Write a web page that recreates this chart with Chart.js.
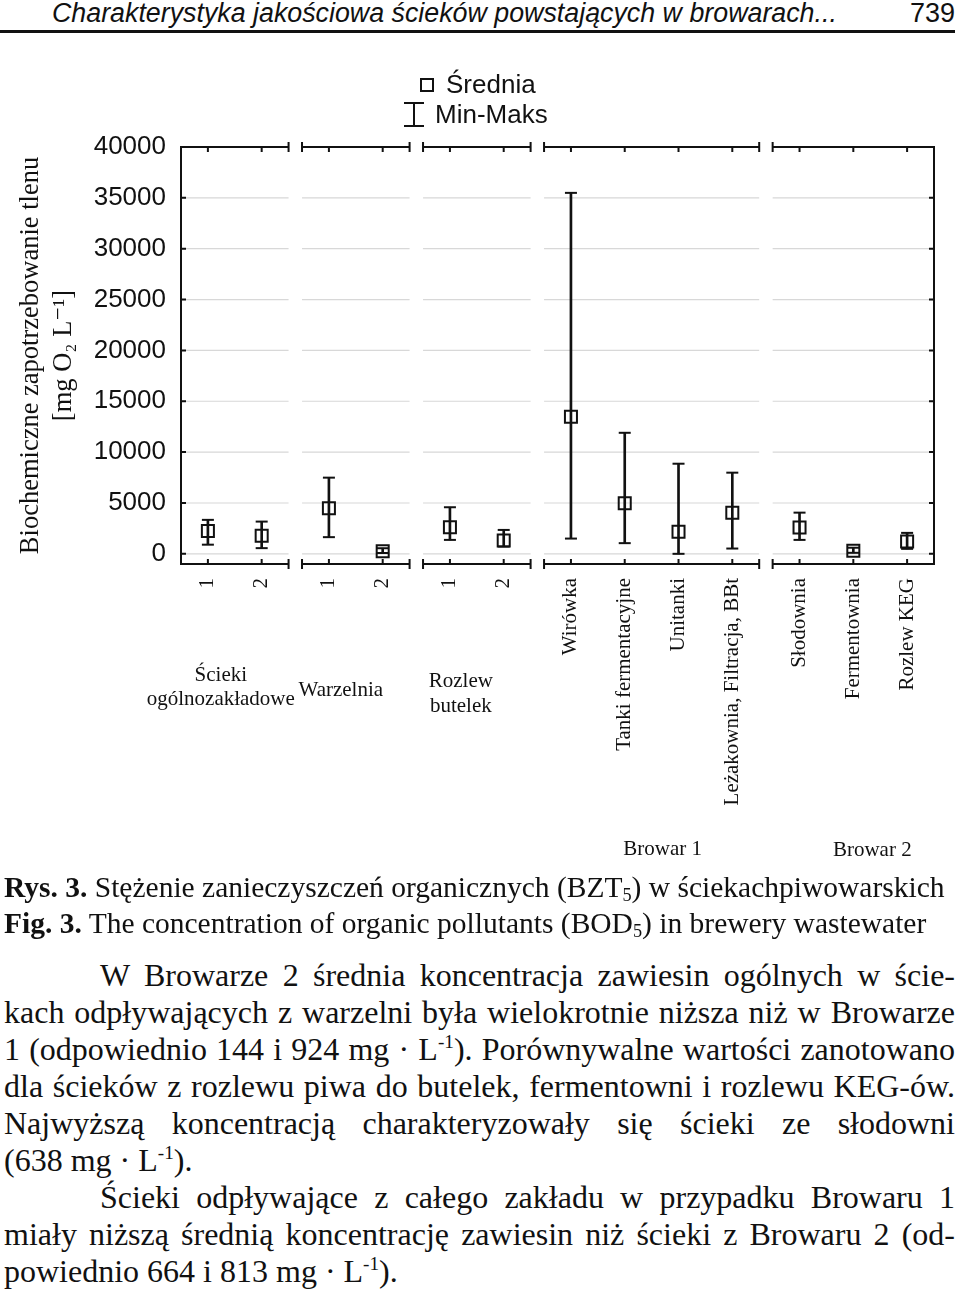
<!DOCTYPE html>
<html lang="pl">
<head>
<meta charset="utf-8">
<title>Stężenie BZT5 w ściekach piwowarskich</title>
<script src="https://cdn.jsdelivr.net/npm/chart.js@4.4.1/dist/chart.umd.min.js"></script>
<style>
  html, body { margin: 0; padding: 0; background: #fff; }
  body { width: 960px; height: 1295px; position: relative; overflow: hidden; color: #111; }
  #running { position: absolute; left: 52px; top: -2px; font: italic 26.8px/30px "Liberation Sans", Arial, sans-serif; white-space: nowrap; }
  #pageno { position: absolute; right: 5px; top: -2px; font: 27px/30px "Liberation Sans", Arial, sans-serif; }
  #rule { position: absolute; left: 0; top: 30px; width: 955px; height: 3px; background: #111; }
  #chartBox { position: absolute; left: 0; top: 40px; width: 960px; height: 830px; }
  #caption { position: absolute; left: 4px; top: 869px; font: 29.5px/36px "Liberation Serif", "Times New Roman", serif; white-space: nowrap; }
  #text { position: absolute; left: 4px; top: 957px; width: 951px; font: 32px/37px "Liberation Serif", "Times New Roman", serif; }
  .j { text-align: justify; text-align-last: justify; }
  .ind { padding-left: 96px; }
  sub { font-size: 0.62em; line-height: 0; vertical-align: 0; position: relative; top: 0.2em; }
  sup { font-size: 0.6em; line-height: 0; vertical-align: 0; position: relative; top: -0.62em; }
</style>
</head>
<body>
<div id="running">Charakterystyka jakościowa ścieków powstających w browarach...</div>
<div id="pageno">739</div>
<div id="rule"></div>

<div id="chartBox"><canvas id="bodChart" width="960" height="830"></canvas></div>

<div id="caption">
  <div><b>Rys. 3.</b> Stężenie zanieczyszczeń organicznych (BZT<sub>5</sub>) w ściekachpiwowarskich</div>
  <div><b>Fig. 3.</b> The concentration of organic pollutants (BOD<sub>5</sub>) in brewery wastewater</div>
</div>

<div id="text">
  <div class="j ind">W Browarze 2 średnia koncentracja zawiesin ogólnych w ście-</div>
  <div class="j">kach odpływających z warzelni była wielokrotnie niższa niż w Browarze</div>
  <div class="j">1 (odpowiednio 144 i 924 mg · L<sup>-1</sup>). Porównywalne wartości zanotowano</div>
  <div class="j">dla ścieków z rozlewu piwa do butelek, fermentowni i rozlewu KEG-ów.</div>
  <div class="j">Najwyższą koncentracją charakteryzowały się ścieki ze słodowni</div>
  <div>(638 mg · L<sup>-1</sup>).</div>
  <div class="j ind">Ścieki odpływające z całego zakładu w przypadku Browaru 1</div>
  <div class="j">miały niższą średnią koncentrację zawiesin niż ścieki z Browaru 2 (od-</div>
  <div>powiednio 664 i 813 mg · L<sup>-1</sup>).</div>
</div>

<script>
// dane (mg O2/L)
const groupNames = [['Ścieki', 'ogólnozakładowe'], ['Warzelnia'], ['Rozlew', 'butelek'], ['Browar 1'], ['Browar 2']];
const groupSizes = [2, 2, 2, 4, 3];
const categories = ['1', '2', '1', '2', '1', '2',
    'Wirówka', 'Tanki fermentacyjne', 'Unitanki', 'Leżakownia, Filtracja, BBt',
    'Słodownia', 'Fermentownia', 'Rozlew KEG'];
const meanValues = [2250, 1770, 4480, 250, 2620, 1300, 13470, 4980, 2160, 4050, 2580, 300, 1210];
const minValues = [900, 560, 1640, 80, 1370, 720, 1500, 1050, 0, 520, 1370, 100, 490];
const maxValues = [3340, 3170, 7490, 550, 4580, 2350, 35490, 11900, 8860, 7980, 4050, 600, 2060];
const yTicks = [0, 5000, 10000, 15000, 20000, 25000, 30000, 35000, 40000];

// panels separated by axis breaks
const panelGap = 0.25;
const panels = [];
const xPositions = [];
let cursor = 0;
groupSizes.forEach(n => {
    panels.push({ from: cursor, to: cursor + n });
    for (let i = 0; i < n; i++) xPositions.push(cursor + i + 0.5);
    cursor += n + panelGap;
});
const xMax = cursor - panelGap;

const ink = '#111';
const serif = "'Liberation Serif', 'DejaVu Serif', serif";
const sans = "'Liberation Sans', Arial, sans-serif";

const brokenFrame = {
    id: 'brokenFrame',
    beforeDatasetsDraw(chart) {
        const { ctx, chartArea: area, scales: { x, y } } = chart;
        const cap = 5, tick = 5;
        ctx.save();
        panels.forEach((p, k) => {
            const x0 = x.getPixelForValue(p.from);
            const x1 = x.getPixelForValue(p.to);
            ctx.strokeStyle = '#d8d8d8';
            ctx.lineWidth = 1.2;
            ctx.beginPath();
            yTicks.forEach(v => {
                const py = y.getPixelForValue(v);
                ctx.moveTo(x0, py);
                ctx.lineTo(x1, py);
            });
            ctx.stroke();

            ctx.strokeStyle = ink;
            ctx.lineWidth = 2;
            ctx.beginPath();
            ctx.moveTo(x0, area.top); ctx.lineTo(x1, area.top);
            ctx.moveTo(x0, area.bottom); ctx.lineTo(x1, area.bottom);
            if (k > 0) {
                ctx.moveTo(x0, area.top - cap); ctx.lineTo(x0, area.top + cap);
                ctx.moveTo(x0, area.bottom - cap); ctx.lineTo(x0, area.bottom + cap);
            }
            if (k < panels.length - 1) {
                ctx.moveTo(x1, area.top - cap); ctx.lineTo(x1, area.top + cap);
                ctx.moveTo(x1, area.bottom - cap); ctx.lineTo(x1, area.bottom + cap);
            }
            ctx.stroke();
        });

        ctx.beginPath();
        xPositions.forEach(v => {
            const px = x.getPixelForValue(v);
            ctx.moveTo(px, area.top); ctx.lineTo(px, area.top + tick);
            ctx.moveTo(px, area.bottom); ctx.lineTo(px, area.bottom - tick);
        });
        ctx.moveTo(area.left, area.top - 1); ctx.lineTo(area.left, area.bottom + 1);
        ctx.moveTo(area.right, area.top - 1); ctx.lineTo(area.right, area.bottom + 1);
        yTicks.forEach(v => {
            const py = y.getPixelForValue(v);
            ctx.moveTo(area.left, py); ctx.lineTo(area.left + tick, py);
            ctx.moveTo(area.right, py); ctx.lineTo(area.right - tick, py);
        });
        ctx.stroke();
        ctx.restore();
    }
};

// legend + group names drawn on top
const labelOffsets = [
    { dx: -14, y: [635, 659] },
    { dx: -15, y: [650] },
    { dx: -16, y: [641, 666] },
    { dx: 11, y: [809] },
    { dx: 19, y: [810] }
];

const annotations = {
    id: 'annotations',
    afterDraw(chart) {
        const { ctx, scales: { x } } = chart;
        const cx = chart.width / 2;
        ctx.save();
        ctx.strokeStyle = ink;
        ctx.fillStyle = ink;
        ctx.lineWidth = 2;

        // legend
        ctx.strokeRect(cx - 59, 39, 12, 12);
        ctx.beginPath();
        ctx.moveTo(cx - 66, 63); ctx.lineTo(cx - 66, 86);
        ctx.moveTo(cx - 76, 63); ctx.lineTo(cx - 56, 63);
        ctx.moveTo(cx - 76, 86); ctx.lineTo(cx - 56, 86);
        ctx.stroke();
        ctx.font = '26px ' + sans;
        ctx.textBaseline = 'alphabetic';
        ctx.textAlign = 'left';
        ctx.fillText('Średnia', cx - 34, 53);
        ctx.fillText('Min-Maks', cx - 45, 83);

        // group names
        ctx.font = '21px ' + serif;
        ctx.textAlign = 'center';
        ctx.textBaseline = 'middle';
        panels.forEach((p, k) => {
            const mid = x.getPixelForValue((p.from + p.to) / 2) + labelOffsets[k].dx;
            groupNames[k].forEach((line, j) => ctx.fillText(line, mid, labelOffsets[k].y[j]));
        });
        ctx.restore();
    }
};

new Chart(document.getElementById('bodChart').getContext('2d'), {
    type: 'scatter',
    data: {
        datasets: [{
            type: 'bar',
            label: 'Min-Maks',
            data: categories.map((c, i) => ({ x: xPositions[i], y: [minValues[i], maxValues[i]] })),
            backgroundColor: ink,
            barThickness: 2,
            grouped: false
        }, {
            label: 'max',
            data: maxValues.map((v, i) => ({ x: xPositions[i], y: v })),
            pointStyle: 'line',
            radius: 6,
            borderWidth: 2,
            borderColor: ink
        }, {
            label: 'min',
            data: minValues.map((v, i) => ({ x: xPositions[i], y: v })),
            pointStyle: 'line',
            radius: 6,
            borderWidth: 2,
            borderColor: ink
        }, {
            label: 'Średnia',
            data: meanValues.map((v, i) => ({ x: xPositions[i], y: v })),
            pointStyle: 'rect',
            radius: 8.5,
            borderWidth: 2,
            borderColor: ink,
            backgroundColor: 'rgba(0,0,0,0)'
        }]
    },
    options: {
        responsive: false,
        animation: false,
        events: [],
        layout: {
            padding: { top: 107, right: 26, left: 0, bottom: 0 }
        },
        plugins: {
            legend: { display: false },
            tooltip: { enabled: false }
        },
        scales: {
            x: {
                type: 'linear',
                min: 0,
                max: xMax,
                offset: false,
                grid: { display: false, drawTicks: false },
                border: { display: false },
                afterBuildTicks: s => { s.ticks = xPositions.map(v => ({ value: v })); },
                afterFit: s => { s.height = 306; },
                ticks: {
                    autoSkip: false,
                    minRotation: 90,
                    maxRotation: 90,
                    padding: 14,
                    color: ink,
                    font: { family: serif, size: 21 },
                    callback: (value, index) => categories[index]
                }
            },
            y: {
                min: -1000,
                max: 40000,
                grid: { display: false, drawTicks: false },
                border: { display: false },
                afterBuildTicks: s => { s.ticks = yTicks.map(v => ({ value: v })); },
                afterFit: s => { s.width = 181; },
                ticks: {
                    padding: 15,
                    color: ink,
                    font: { family: sans, size: 26 },
                    callback: v => String(v)
                },
                title: {
                    display: true,
                    text: ['Biochemiczne zapotrzebowanie tlenu', '[mg O₂ L⁻¹]'],
                    color: ink,
                    font: { family: serif, size: 26.5, lineHeight: 1.25 },
                    padding: { top: 14, bottom: 0 }
                }
            }
        }
    },
    plugins: [brokenFrame, annotations]
});
</script>
</body>
</html>
